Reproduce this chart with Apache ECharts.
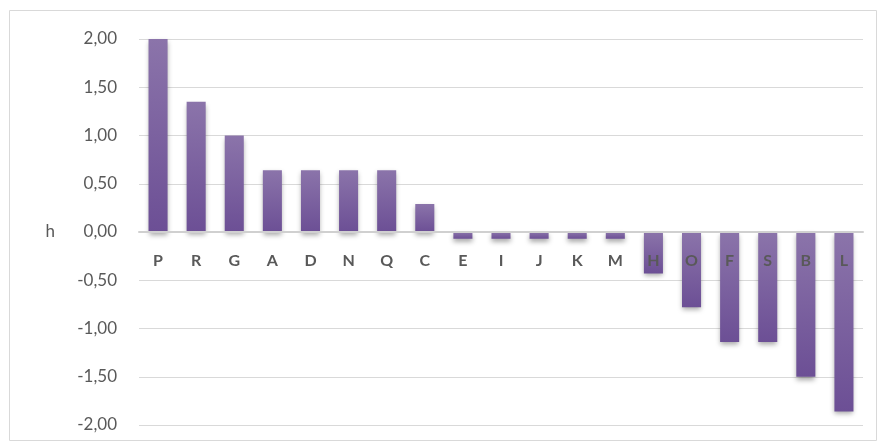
<!DOCTYPE html>
<html><head><meta charset="utf-8">
<script src="https://cdn.jsdelivr.net/npm/echarts@6/dist/echarts.min.js"></script>
<style>html,body{margin:0;padding:0;background:#fff}#c{width:878px;height:443px}</style>
</head><body><div id="c"></div>
<script>
var categories = ['P','R','G','A','D','N','Q','C','E','I','J','K','M','H','O','F','S','B','L'];
var values = [2.00,1.35,1.00,0.64,0.64,0.64,0.64,0.29,-0.07,-0.07,-0.07,-0.07,-0.07,-0.43,-0.78,-1.14,-1.14,-1.50,-1.86];
var yTicks = {min:-2, max:2, interval:0.5};
var axisName = 'h';

var chart = echarts.init(document.getElementById('c'));
chart.setOption({
  animation:false,
  graphic:[{type:'rect',shape:{x:9.5,y:10.5,width:867,height:430},style:{fill:'none',stroke:'#d9d9d9',lineWidth:1}}],
  grid:{left:139,right:15,top:39,bottom:18,outerBoundsMode:'none',containLabel:false},
  xAxis:{type:'category',data:categories,position:'bottom',offset:-193,z:10,
    axisLine:{onZero:false,lineStyle:{color:'#d0d0d0',width:2}},
    axisTick:{show:false},
    axisLabel:{margin:21,color:'#595959',fontFamily:'Lato',fontWeight:'bold',fontSize:16}},
  yAxis:{type:'value',min:yTicks.min,max:yTicks.max,interval:yTicks.interval,
    name:axisName,nameLocation:'middle',nameRotate:0,nameGap:84,
    nameTextStyle:{color:'#595959',fontFamily:'Lato',fontSize:17},
    axisLine:{show:false},axisTick:{show:false},
    splitLine:{lineStyle:{color:'#d9d9d9',width:1}},
    axisLabel:{margin:22,color:'#595959',fontFamily:'Lato',fontSize:17,
      formatter:function(v){return v.toFixed(2).replace('.',',');}}},
  series:[{type:'bar',data:values,barWidth:'50%',z:2,
    itemStyle:{color:new echarts.graphic.LinearGradient(0,0,0,1,[{offset:0,color:'#8b74aa'},{offset:1,color:'#6c4f95'}]),
      shadowColor:'rgba(0,0,0,0.35)',shadowBlur:5,shadowOffsetY:3}}]
});
</script></body></html>
